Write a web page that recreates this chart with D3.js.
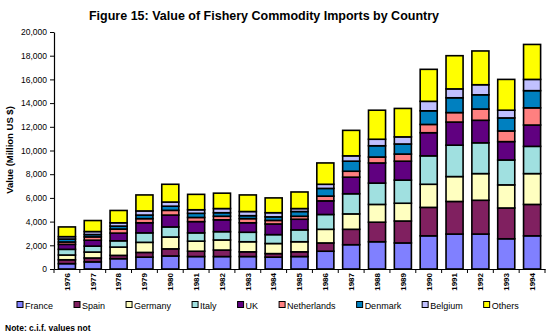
<!DOCTYPE html>
<html>
<head>
<meta charset="utf-8">
<script src="https://cdn.jsdelivr.net/npm/d3@7"></script>
<style>
  body { margin: 0; background: #fff; }
  text { font-family: Arial, 'Liberation Sans', sans-serif; }
</style>
</head>
<body>
<div id="canvas"></div>
<script>
var years = [1976, 1977, 1978, 1979, 1980, 1981, 1982, 1983, 1984, 1985,
             1986, 1987, 1988, 1989, 1990, 1991, 1992, 1993, 1994];

// values in million US $
var france      = [450, 600, 870, 1000, 1100, 1050, 1050, 1050, 1000, 1050, 1500, 2050, 2300, 2200, 2800, 2950, 2950, 2550, 2800];
var spain       = [330, 330, 280, 400, 600, 450, 550, 400, 300, 400, 700, 1300, 1650, 1850, 2400, 2750, 2850, 2600, 2650];
var germany     = [400, 500, 700, 850, 1000, 850, 850, 850, 850, 850, 1150, 1300, 1500, 1500, 1950, 2100, 2250, 1950, 2600];
var italy       = [480, 500, 530, 800, 850, 700, 700, 800, 750, 1000, 1250, 1700, 1800, 1950, 2400, 2650, 2600, 2100, 2300];
var uk          = [420, 500, 650, 850, 1000, 950, 1000, 800, 900, 900, 1150, 1400, 1700, 1600, 1950, 1950, 1900, 1550, 1800];
var netherlands = [200, 280, 340, 350, 400, 350, 300, 350, 300, 250, 400, 500, 500, 600, 700, 800, 950, 900, 1450];
var denmark     = [250, 200, 250, 300, 350, 350, 300, 250, 300, 400, 650, 850, 950, 850, 1150, 1250, 1200, 1100, 1450];
var belgium     = [200, 250, 280, 350, 350, 300, 350, 350, 350, 250, 350, 450, 550, 600, 800, 750, 850, 650, 950];
var others      = [820, 930, 1040, 1350, 1500, 1300, 1300, 1400, 1250, 1400, 1800, 2150, 2450, 2400, 2700, 2800, 2850, 2600, 2950];

var keys = ['France', 'Spain', 'Germany', 'Italy', 'UK', 'Netherlands', 'Denmark', 'Belgium', 'Others'];
var series = [france, spain, germany, italy, uk, netherlands, denmark, belgium, others];
var yTicks = [0, 2000, 4000, 6000, 8000, 10000, 12000, 14000, 16000, 18000, 20000];

var color = d3.scaleOrdinal()
    .domain(keys)
    .range(['#8080ff', '#802060', '#ffffc0', '#a0e0e0', '#600080',
            '#ff8080', '#0080c0', '#c0c0ff', '#ffff00']);

var table = years.map(function(y, i) {
    var row = {year: y};
    keys.forEach(function(k, j) { row[k] = series[j][i]; });
    return row;
});

var canvas = d3.select('#canvas').append('svg')
    .attr('width', 547)
    .attr('height', 336);

var x = d3.scaleBand()
    .domain(years)
    .range([54, 545])
    .paddingInner(0.34)
    .paddingOuter(0.17);

var y = d3.scaleLinear()
    .domain([0, 20000])
    .range([269, 32]);

// title
canvas.append('text')
    .attr('x', 264)
    .attr('y', 20)
    .attr('text-anchor', 'middle')
    .attr('font-size', '12.5px')
    .attr('font-weight', 'bold')
    .text('Figure 15: Value of Fishery Commodity Imports by Country');

// stacked bars
var stack = d3.stack().keys(keys);

var layers = canvas.append('g').selectAll('g')
    .data(stack(table))
    .enter()
    .append('g')
    .attr('fill', function(d) { return color(d.key); });

layers.selectAll('rect')
    .data(function(d) { return d; })
    .enter()
    .append('rect')
    .attr('x', function(d) { return x(d.data.year); })
    .attr('y', function(d) { return y(d[1]); })
    .attr('width', x.bandwidth())
    .attr('height', function(d) { return y(d[0]) - y(d[1]); })
    .attr('stroke', '#000')
    .attr('stroke-width', 1.6);

// y axis
var yAxis = canvas.append('g')
    .attr('transform', 'translate(54,0)')
    .call(d3.axisLeft(y)
        .tickValues(yTicks)
        .tickFormat(d3.format(','))
        .tickSize(4)
        .tickSizeOuter(0)
        .tickPadding(3));
yAxis.selectAll('text')
    .attr('font-size', '8.5px')
    .attr('font-family', 'Arial, Liberation Sans, sans-serif');
yAxis.select('.domain').attr('stroke-width', 1.2);

// x axis: ticks sit between the bars
var xAxis = canvas.append('g')
    .attr('transform', 'translate(0,269)')
    .call(d3.axisBottom(x).tickSize(0).tickPadding(4).tickSizeOuter(0));
xAxis.select('.domain').attr('stroke-width', 1.2);
xAxis.selectAll('text')
    .attr('font-size', '8px')
    .attr('font-weight', 'bold')
    .attr('font-family', 'Arial, Liberation Sans, sans-serif')
    .attr('transform', 'rotate(-90)')
    .attr('text-anchor', 'end')
    .attr('dy', '0.35em')
    .attr('x', -4)
    .attr('y', 0);

var bounds = years.map(function(d) { return x(d) - (x.step() - x.bandwidth()) / 2; });
bounds.push(545);
xAxis.selectAll('.bound')
    .data(bounds)
    .enter()
    .append('line')
    .attr('class', 'bound')
    .attr('x1', function(d) { return d; })
    .attr('x2', function(d) { return d; })
    .attr('y1', 0)
    .attr('y2', 4)
    .attr('stroke', '#000');

// y label
canvas.append('text')
    .attr('transform', 'translate(13,150) rotate(-90)')
    .attr('text-anchor', 'middle')
    .attr('font-size', '9.5px')
    .attr('font-weight', 'bold')
    .text('Value (Million US $)');

// legend
var legend = canvas.append('g')
    .attr('transform', 'translate(0,305)');
var lx = 17;
keys.forEach(function(k) {
    legend.append('rect')
        .attr('x', lx)
        .attr('y', -3.5)
        .attr('width', 6)
        .attr('height', 6)
        .attr('fill', color(k))
        .attr('stroke', '#000');
    var t = legend.append('text')
        .attr('x', lx + 8)
        .attr('y', 3.5)
        .attr('font-size', '9px')
        .text(k);
    lx = lx + 8 + t.node().getComputedTextLength() + 21;
});

// note
canvas.append('text')
    .attr('x', 5)
    .attr('y', 331)
    .attr('font-size', '8.5px')
    .attr('font-weight', 'bold')
    .text('Note: c.i.f. values not');
</script>
</body>
</html>
